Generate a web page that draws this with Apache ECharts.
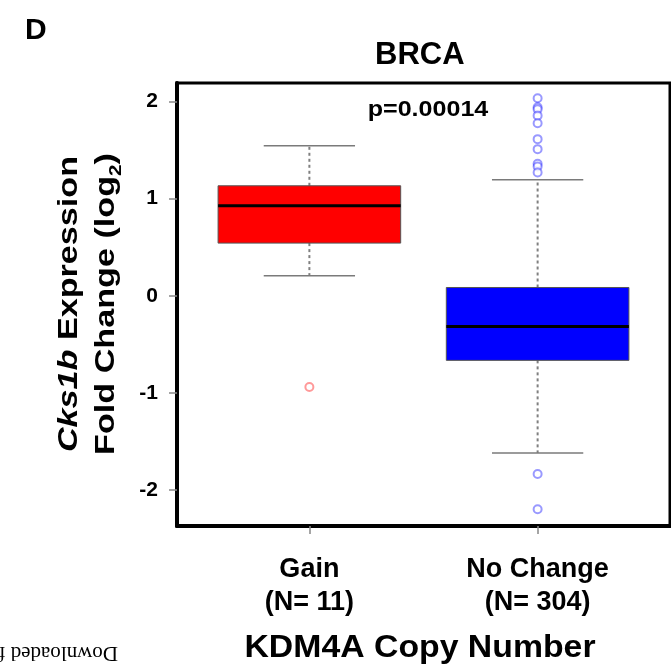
<!DOCTYPE html>
<html>
<head>
<meta charset="utf-8">
<script src="https://cdn.jsdelivr.net/npm/echarts@6/dist/echarts.min.js"></script>
<style>
  html, body { margin: 0; padding: 0; background: #fff; }
  #main { width: 671px; height: 671px; }
</style>
</head>
<body>
<div id="main"></div>
<script>
// data
const categories = ['Gain', 'No Change'];
const sampleSizes = [11, 304];
// [lower whisker, Q1, median, Q3, upper whisker]
const gainBox = [0.206, 0.542, 0.926, 1.132, 1.543];
const noChangeBox = [-1.618, -0.665, -0.316, 0.085, 1.193];
const gainOutliers = [-0.94];
const noChangeOutliers = [2.033, 1.94, 1.92, 1.854, 1.776, 1.612, 1.509, 1.358, 1.33, 1.268, -1.834, -2.198];
const yTicks = [-2, -1, 0, 1, 2];
const pValue = 'p=0.00014';

const FONT = 'Liberation Sans, Arial, sans-serif';
const boxColors = ['#ff0000', '#0000ff'];
const pointColors = ['rgba(255,0,0,0.5)', 'rgba(0,0,255,0.5)'];

const boxData = [[1].concat(gainBox), [2].concat(noChangeBox)];

function renderBox (params, api) {
  const x = api.value(0);
  const lo = api.value(1), q1 = api.value(2), med = api.value(3), q3 = api.value(4), hi = api.value(5);
  const half = api.size([0.4, 0])[0];
  const cap = api.size([0.2, 0])[0];
  const c = api.coord([x, med]);
  const pLo = api.coord([x, lo]);
  const pQ1 = api.coord([x, q1]);
  const pQ3 = api.coord([x, q3]);
  const pHi = api.coord([x, hi]);
  const cx = c[0];
  const whisker = { stroke: '#808080', lineWidth: 2, lineDash: [3, 3] };
  const capStyle = { stroke: '#7a7a7a', lineWidth: 1.5 };
  return {
    type: 'group',
    children: [
      { type: 'line', shape: { x1: cx, y1: pQ3[1], x2: cx, y2: pHi[1] }, style: whisker },
      { type: 'line', shape: { x1: cx, y1: pQ1[1], x2: cx, y2: pLo[1] }, style: whisker },
      { type: 'line', shape: { x1: cx - cap, y1: pHi[1], x2: cx + cap, y2: pHi[1] }, style: capStyle },
      { type: 'line', shape: { x1: cx - cap, y1: pLo[1], x2: cx + cap, y2: pLo[1] }, style: capStyle },
      {
        type: 'rect',
        shape: { x: cx - half, y: pQ3[1], width: half * 2, height: pQ1[1] - pQ3[1] },
        style: { fill: boxColors[params.dataIndex], stroke: '#555', lineWidth: 1 }
      },
      { type: 'line', shape: { x1: cx - half, y1: c[1], x2: cx + half, y2: c[1] }, style: { stroke: '#000', lineWidth: 3 } }
    ]
  };
}

const chart = echarts.init(document.getElementById('main'));
chart.setOption({
  animation: false,
  backgroundColor: '#fff',
  title: [
    { text: 'D', left: 20, top: 11, textStyle: { fontFamily: FONT, fontSize: 30, fontWeight: 'bold', color: '#000' } },
    { text: 'BRCA', left: 370, top: 35, textStyle: { fontFamily: FONT, fontSize: 31, fontWeight: 'bold', color: '#000' } }
  ],
  grid: {
    left: 177, right: 1, top: 83, bottom: 145,
    show: true, borderColor: '#000', borderWidth: 3,
    outerBoundsMode: 'none'
  },
  xAxis: {
    type: 'value',
    min: 0.42,
    max: 2.58,
    splitLine: { show: false },
    axisLine: { show: true, onZero: false, lineStyle: { color: '#000', width: 4 } },
    axisTick: { show: true, customValues: [1, 2], length: 8, lineStyle: { color: '#888', width: 1.5 } },
    axisLabel: {
      customValues: [1, 2],
      margin: 27,
      fontFamily: FONT, fontSize: 27, fontWeight: 'bold', color: '#000', lineHeight: 33,
      formatter: v => categories[Math.round(v) - 1] + '\n(N= ' + sampleSizes[Math.round(v) - 1] + ')'
    }
  },
  yAxis: {
    type: 'value',
    min: -2.37,
    max: 2.19,
    splitLine: { show: false },
    axisLine: { show: true, onZero: false, lineStyle: { color: '#000', width: 4 } },
    axisTick: { show: true, customValues: yTicks, length: 8, lineStyle: { color: '#888', width: 1.5 } },
    axisLabel: {
      customValues: yTicks,
      margin: 19,
      fontFamily: FONT, fontSize: 21, fontWeight: 'bold', color: '#000'
    }
  },
  graphic: [
    {
      type: 'text', x: 428, y: 110, scaleX: 1.14,
      style: { text: pValue, font: 'bold 22px ' + FONT, fill: '#000', align: 'center', verticalAlign: 'middle' }
    },
    {
      type: 'text', x: 420, y: 648, scaleX: 1.09,
      style: { text: 'KDM4A Copy Number', font: 'bold 31px ' + FONT, fill: '#000', align: 'center', verticalAlign: 'middle' }
    },
    {
      type: 'text', x: 88, y: 304, rotation: Math.PI / 2, scaleX: 1.22,
      style: {
        text: '{i|Cks1b} Expression\nFold Change (log{s|2})',
        font: 'bold 28px ' + FONT, fill: '#000', align: 'center', verticalAlign: 'middle', lineHeight: 37,
        rich: {
          i: { fontFamily: FONT, fontSize: 28, fontWeight: 'bold', fontStyle: 'italic', lineHeight: 37 },
          s: { fontFamily: FONT, fontSize: 17, fontWeight: 'bold', lineHeight: 22, verticalAlign: 'bottom' }
        }
      }
    },
    {
      type: 'text', x: 118, y: 663, rotation: Math.PI,
      style: { text: 'Downloaded from', font: '21px Liberation Serif, Times New Roman, serif', fill: '#000', align: 'left', verticalAlign: 'top' }
    }
  ],
  series: [
    {
      type: 'custom',
      renderItem: renderBox,
      encode: { x: 0, y: [1, 2, 3, 4, 5] },
      data: boxData,
      z: 2
    },
    {
      type: 'scatter',
      symbol: 'emptyCircle',
      symbolSize: 8,
      itemStyle: { color: pointColors[0], borderColor: pointColors[0], borderWidth: 2 },
      data: gainOutliers.map(v => [1, v]),
      z: 3
    },
    {
      type: 'scatter',
      symbol: 'emptyCircle',
      symbolSize: 8,
      itemStyle: { color: pointColors[1], borderColor: pointColors[1], borderWidth: 2 },
      data: noChangeOutliers.map(v => [2, v]),
      z: 3
    }
  ]
});
</script>
</body>
</html>
